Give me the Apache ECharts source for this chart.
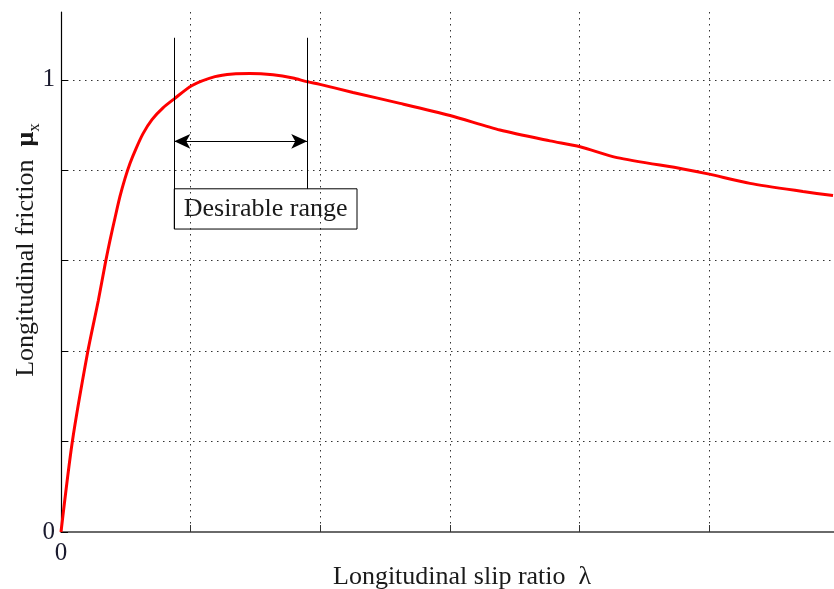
<!DOCTYPE html>
<html>
<head>
<meta charset="utf-8">
<script src="https://cdn.jsdelivr.net/npm/echarts@6/dist/echarts.min.js"></script>
<style>
  html, body { margin: 0; padding: 0; background: #fff; }
  #chart { width: 834px; height: 589px; }
</style>
</head>
<body>
<div id="chart"></div>
<script>
// Tyre friction curve: longitudinal friction coefficient vs. slip ratio
const slip = [0, 0.0087, 0.0206, 0.0288, 0.0345, 0.0378, 0.0417, 0.0455, 0.0494, 0.0532,
  0.0579, 0.0633, 0.0702, 0.0787, 0.0874, 0.1008, 0.1188, 0.1327, 0.1458, 0.1636,
  0.179, 0.1896, 0.1998, 0.2253, 0.2616, 0.3002, 0.3387, 0.3773, 0.4005, 0.429,
  0.4799, 0.4992, 0.5316, 0.5725, 0.5957];
const friction = [0, 0.199, 0.398, 0.512, 0.599, 0.645, 0.695, 0.742, 0.782, 0.815,
  0.848, 0.881, 0.912, 0.938, 0.958, 0.987, 1.007, 1.013, 1.014, 1.011,
  1.004, 0.996, 0.990, 0.972, 0.948, 0.921, 0.889, 0.865, 0.852, 0.828,
  0.803, 0.792, 0.771, 0.753, 0.744];

// Axis ticks (only 0 and 1 are labelled on the friction axis)
const xTicks = [0, 0.1, 0.2, 0.3, 0.4, 0.5, 0.6];
const yTicks = [0, 0.2, 0.4, 0.6, 0.8, 1.0];
const xLabels = ['0'];
const yLabels = ['0', '1'];

// Desirable slip range and its annotation
const rangeLow = 0.0874;
const rangeHigh = 0.190;
const rangeText = 'Desirable range';
const markerTop = 1.093;
const arrowLevel = 0.864;
const boxTop = 0.759;
const boxBottom = 0.670;
const boxRight = 0.2284;

const serif = '"Liberation Serif", "DejaVu Serif", serif';

const chart = echarts.init(document.getElementById('chart'), null, { renderer: 'canvas' });

const points = slip.map((s, i) => [s, friction[i]]);

const option = {
  animation: false,
  backgroundColor: '#ffffff',
  grid: { left: 61, right: -4.6, top: 12, bottom: 57, containLabel: false, outerBoundsMode: 'none' },
  xAxis: {
    type: 'value',
    min: 0,
    max: 0.6,
    interval: 0.1,
    axisLine: { show: true, onZero: false, lineStyle: { color: '#6a6a6a', width: 2 } },
    axisTick: { show: true, inside: true, length: 7, customValues: xTicks, lineStyle: { color: '#333', width: 1 } },
    axisLabel: {
      show: true, margin: 9, color: '#1a1a2e', fontFamily: serif, fontSize: 25,
      customValues: xTicks,
      formatter: v => (Math.abs(v) < 1e-9 ? xLabels[0] : '')
    },
    splitLine: { show: true, lineStyle: { color: '#333', width: 1, type: [1.5, 4.5] } }
  },
  yAxis: {
    type: 'value',
    min: 0,
    max: 1.15,
    interval: 0.2,
    axisLine: { show: true, onZero: false, lineStyle: { color: '#000', width: 1.2 } },
    axisTick: { show: true, inside: true, length: 7, customValues: yTicks, lineStyle: { color: '#000', width: 1 } },
    axisLabel: {
      show: true, margin: 6, color: '#1a1a2e', fontFamily: serif, fontSize: 25,
      customValues: yTicks,
      formatter: v => (Math.abs(v) < 1e-9 ? yLabels[0] : (Math.abs(v - 1) < 1e-9 ? yLabels[1] : ''))
    },
    splitLine: {
      show: true,
      lineStyle: {
        color: ['#333', '#333', '#333', '#333', '#333', '#333', 'rgba(0,0,0,0)'],
        width: 1, type: [1.5, 4.5]
      }
    }
  },
  graphic: [
    {
      type: 'text',
      left: 333, top: 564,
      style: {
        text: 'Longitudinal slip ratio  λ',
        font: '26px ' + serif,
        fill: '#1a1a1a'
      }
    },
    {
      type: 'text',
      x: 26, y: 250,
      rotation: Math.PI / 2,
      style: {
        text: '{t|Longitudinal friction  }{m|μ}{s|x}',
        align: 'center',
        verticalAlign: 'middle',
        rich: {
          t: { font: '26px ' + serif, fill: '#1a1a1a', lineHeight: 34 },
          m: { font: 'bold 26px ' + serif, fill: '#1a1a1a', lineHeight: 34 },
          s: { font: '17px ' + serif, fill: '#1a1a1a', verticalAlign: 'bottom', lineHeight: 17 }
        }
      }
    }
  ],
  series: [
    {
      type: 'line',
      data: points,
      smooth: 0.25,
      showSymbol: false,
      symbol: 'none',
      lineStyle: { color: '#ff0000', width: 3 },
      z: 3,
      markLine: {
        silent: true,
        symbol: 'none',
        lineStyle: { color: '#000', width: 1, type: 'solid' },
        label: { show: false },
        data: [
          [{ coord: [rangeLow, markerTop] }, { coord: [rangeLow, boxBottom] }],
          [{ coord: [rangeHigh, markerTop] }, { coord: [rangeHigh, boxTop] }],
          [
            { coord: [rangeLow, arrowLevel], symbol: 'arrow', symbolSize: [11, 16] },
            { coord: [rangeHigh, arrowLevel], symbol: 'arrow', symbolSize: [11, 16] }
          ]
        ]
      },
      markArea: {
        silent: true,
        itemStyle: { color: 'rgba(0,0,0,0)', borderColor: '#000', borderWidth: 1 },
        label: {
          show: true, position: 'inside', color: '#1a1a1a',
          fontFamily: serif, fontSize: 26
        },
        data: [
          [{ name: rangeText, coord: [rangeLow, boxTop] }, { coord: [boxRight, boxBottom] }]
        ]
      }
    }
  ]
};

chart.setOption(option);
</script>
</body>
</html>
